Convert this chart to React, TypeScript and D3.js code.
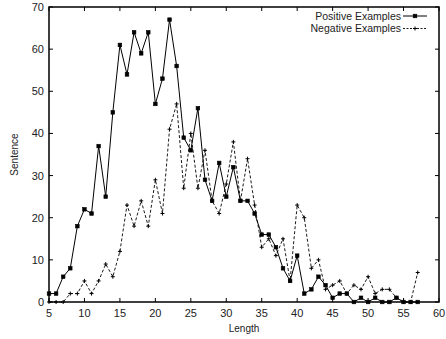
import { useEffect, useRef } from "react";
import * as d3 from "d3";

// sentence length histogram (gnuplot-style)
const lengths = d3.range(5, 58);
const positive = [
  2, 2, 6, 8, 18, 22, 21, 37, 25, 45, 61, 54, 64, 59, 64, 47, 53, 67, 56, 39,
  36, 46, 29, 24, 33, 25, 32, 24, 24, 21, 16, 16, 13, 8, 5, 11, 2, 3, 6, 4, 1,
  2, 2, 0, 1, 0, 1, 0, 0, 1, 0, 0, 0,
];
const negative = [
  0, 0, 0, 2, 2, 5, 2, 5, 9, 6, 12, 23, 18, 24, 18, 29, 21, 41, 47, 27, 40, 27,
  36, 24, 21, 28, 38, 24, 34, 23, 13, 15, 11, 15, 5, 23, 20, 8, 10, 3, 4, 5, 2,
  4, 3, 6, 2, 3, 3, 1, 0, 0, 7,
];
const xTicks = d3.range(5, 61, 5);
const yTicks = d3.range(0, 71, 10);

const App = () => {
  const ref = useRef(null);

  useEffect(() => {
    const W = 446, H = 339;
    const margin = { top: 7, right: 7, bottom: 37, left: 49 };
    const font = "'Liberation Sans', Arial, Helvetica, sans-serif";

    const svg = d3.select(ref.current);
    svg.selectAll("*").remove();

    const x = d3.scaleLinear().domain([5, 60]).range([margin.left, W - margin.right]);
    const y = d3.scaleLinear().domain([0, 70]).range([H - margin.bottom, margin.top]);

    const g = svg.append("g").attr("font-family", font).attr("font-size", 11).attr("fill", "#222");

    // ticks on all four sides, pointing inward
    const tk = 4;
    xTicks.forEach((v) => {
      g.append("line").attr("x1", x(v)).attr("x2", x(v))
        .attr("y1", y(0)).attr("y2", y(0) - tk).attr("stroke", "#000");
      g.append("line").attr("x1", x(v)).attr("x2", x(v))
        .attr("y1", y(70)).attr("y2", y(70) + tk).attr("stroke", "#000");
      g.append("text").attr("x", x(v)).attr("y", y(0) + 15)
        .attr("text-anchor", "middle").text(v);
    });
    yTicks.forEach((v) => {
      g.append("line").attr("x1", x(5)).attr("x2", x(5) + tk)
        .attr("y1", y(v)).attr("y2", y(v)).attr("stroke", "#000");
      g.append("line").attr("x1", x(60)).attr("x2", x(60) - tk)
        .attr("y1", y(v)).attr("y2", y(v)).attr("stroke", "#000");
      g.append("text").attr("x", x(5) - 5).attr("y", y(v) + 4)
        .attr("text-anchor", "end").text(v);
    });

    g.append("rect")
      .attr("x", x(5)).attr("y", y(70))
      .attr("width", x(60) - x(5)).attr("height", y(0) - y(70))
      .attr("fill", "none").attr("stroke", "#000").attr("stroke-width", 1.5);

    g.append("text").attr("x", (x(5) + x(60)) / 2).attr("y", H - 7)
      .attr("text-anchor", "middle").attr("font-size", 10).text("Length");
    g.append("text")
      .attr("transform", `translate(18,${(y(0) + y(70)) / 2}) rotate(-90)`)
      .attr("text-anchor", "middle").attr("font-size", 10).text("Sentence");

    const line = d3.line().x((d) => x(d[0])).y((d) => y(d[1]));
    const posData = lengths.map((l, i) => [l, positive[i]]);
    const negData = lengths.map((l, i) => [l, negative[i]]);

    g.append("path").datum(negData).attr("d", line)
      .attr("fill", "none").attr("stroke", "#000").attr("stroke-width", 0.9)
      .attr("stroke-dasharray", "3,2");
    g.append("path").datum(posData).attr("d", line)
      .attr("fill", "none").attr("stroke", "#000").attr("stroke-width", 1);

    const plus = (px, py) => {
      g.append("path")
        .attr("d", `M${px - 2},${py}H${px + 2}M${px},${py - 2}V${py + 2}`)
        .attr("stroke", "#000").attr("stroke-width", 1);
    };
    const boxMark = (px, py) => {
      g.append("rect").attr("x", px - 1.8).attr("y", py - 1.8)
        .attr("width", 3.6).attr("height", 3.6)
        .attr("fill", "#000").attr("stroke", "#000").attr("stroke-width", 0.6);
    };
    negData.forEach((d) => plus(x(d[0]), y(d[1])));
    posData.forEach((d) => boxMark(x(d[0]), y(d[1])));

    // legend
    const lx = 401, sx1 = 403, sx2 = 427;
    g.append("text").attr("x", lx).attr("y", 20).attr("text-anchor", "end")
      .attr("font-size", 10.5).text("Positive Examples");
    g.append("line").attr("x1", sx1).attr("x2", sx2).attr("y1", 16).attr("y2", 16)
      .attr("stroke", "#000").attr("stroke-width", 1);
    boxMark((sx1 + sx2) / 2, 16);
    g.append("text").attr("x", lx).attr("y", 32).attr("text-anchor", "end")
      .attr("font-size", 10.5).text("Negative Examples");
    g.append("line").attr("x1", sx1).attr("x2", sx2).attr("y1", 28.5).attr("y2", 28.5)
      .attr("stroke", "#000").attr("stroke-width", 0.9).attr("stroke-dasharray", "2,1.5");
    plus((sx1 + sx2) / 2, 28.5);
  }, []);

  return (
    <svg
      ref={ref}
      width={446}
      height={339}
      style={{ position: "absolute", left: 0, top: 0, background: "#fff" }}
    />
  );
};

export default App;
